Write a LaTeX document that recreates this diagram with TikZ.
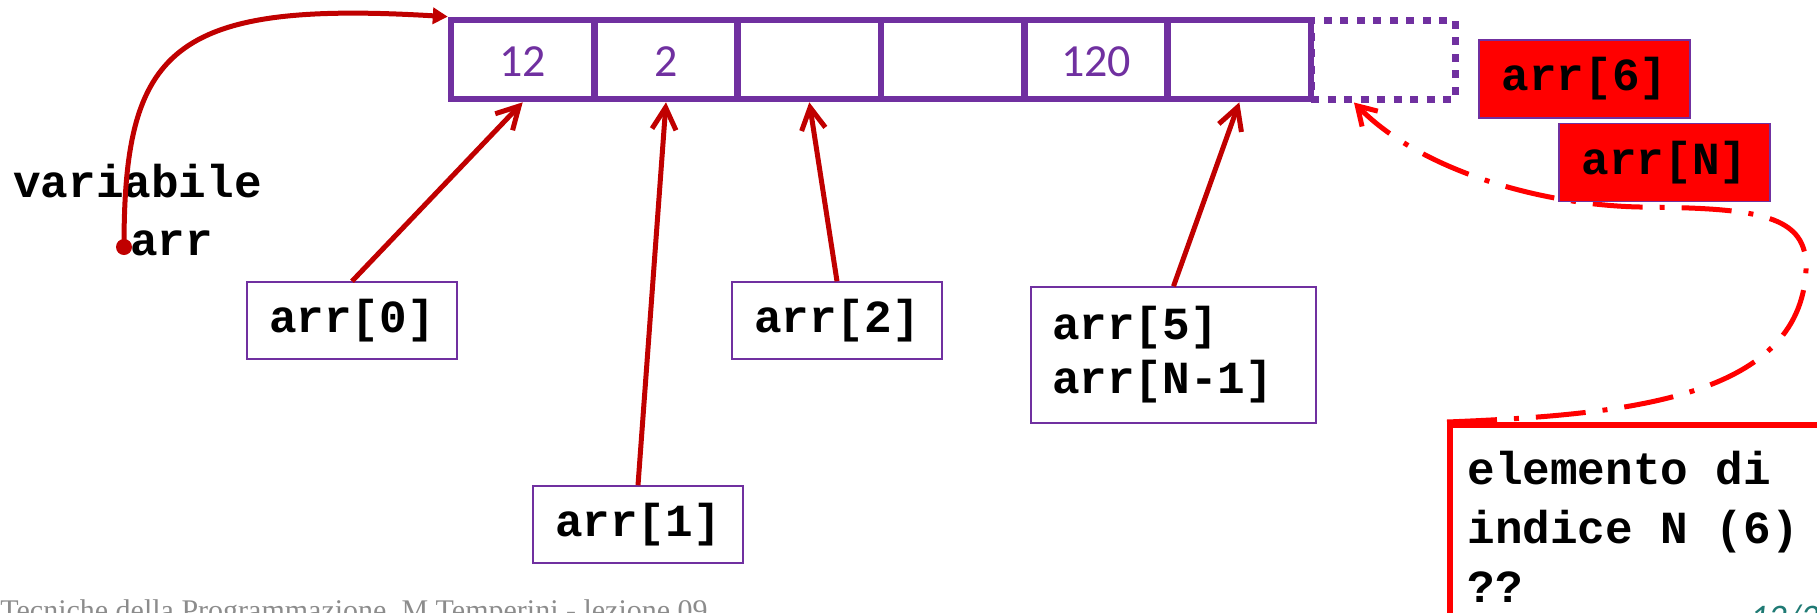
\documentclass[tikz,border=0pt]{standalone}
\usepackage{fontspec}
\setmonofont{Liberation Mono}
\newfontfamily\calib{Carlito}
\newfontfamily\serifft{Liberation Serif}
\usetikzlibrary{arrows.meta}
\definecolor{mpurple}{HTML}{7030A0}
\definecolor{dred}{HTML}{C00000}
\definecolor{bred}{HTML}{FF0000}
\definecolor{pteal}{HTML}{1F7A74}
\definecolor{fgray}{HTML}{8C8C8C}
\tikzset{
  cell/.style={draw=mpurple, line width=3.3pt, minimum width=71.6pt, minimum height=39.5pt,
    inner sep=0pt, text=mpurple, text height=17pt, text depth=0pt,
    font=\calib\fontsize{23}{27}\selectfont},
  ghostcell/.style={draw=mpurple, line width=3.5pt, dash pattern=on 4pt off 4.25pt,
    minimum width=72pt, minimum height=39.5pt, inner sep=0pt},
  monofont/.style={font=\ttfamily\bfseries\fontsize{23}{27}\selectfont},
  lab/.style={monofont, draw=mpurple, line width=0.75pt, fill=white, inner sep=0pt,
    minimum width=105pt, minimum height=38.5pt},
  redlab/.style={monofont, draw=mpurple, line width=0.75pt, fill=bred, inner sep=0pt,
    minimum width=105.5pt, minimum height=39pt},
  idxarrow/.style={draw=dred, line width=2.5pt, -{Straight Barb[length=11pt,width=12pt]}},
  ptrarrow/.style={draw=dred, line width=2.5pt, -{Triangle[length=7.5pt,width=8pt]}},
  oobarrow/.style={draw=bred, line width=2.5pt, dash pattern=on 25pt off 8.5pt on 2.5pt off 8.5pt,
    -{Straight Barb[length=9pt,width=11pt]}},
}
\begin{document}
\begin{tikzpicture}[x=0.5pt,y=-0.5pt]
\useasboundingbox (0,0) rectangle (1817,612);
\clip (0,0) rectangle (1817,612);

% array cells
\node[cell] (c1) at (522.7,59.5) {12};
\node[cell] (c2) at (666,59.5) {2};
\node[cell] (c3) at (809.3,59.5) {};
\node[cell] (c4) at (952.7,59.5) {};
\node[cell] (c5) at (1096,59.5) {120};
\node[cell] (c6) at (1239.3,59.5) {};
\node[ghostcell] (c7) at (1383,59.5) {};

% variable arr
\node[font=\ttfamily\bfseries\fontsize{23}{29}\selectfont, anchor=base west,
  text width=150pt, inner sep=0pt, align=left] (var) at (13,197)
  {variabile\\\hspace*{58.5pt}arr};
\node[circle, fill=dred, inner sep=0pt, minimum size=8pt] (dot) at (124,247) {};
\draw[ptrarrow] (dot.center) .. controls (124,50) and (170,0) .. (c1.north west);

% index labels
\node[lab] (l0) at (352,320.5) {arr[0]};
\node[lab] (l2) at (837,320.5) {arr[2]};
\node[lab] (l1) at (638,524.5) {arr[1]};
\node[lab, minimum width=142.5pt, minimum height=68pt, text width=121.5pt, inner xsep=10.5pt,
  align=left] (l5) at (1173.5,355) {arr[5]\\arr[N-1]};

\draw[idxarrow] (l0.north) -- (c1.south);
\draw[idxarrow] (l1.north) -- (c2.south);
\draw[idxarrow] (l2.north) -- (c3.south);
\draw[idxarrow] (l5.north) -- (c6.south);

% out-of-bounds element
\node[draw=bred, line width=3pt, fill=white, anchor=north west, minimum width=250pt,
  minimum height=150pt, inner sep=0pt] (nb) at (1447,422) {};
\node[font=\ttfamily\bfseries\fontsize{23}{29.5}\selectfont, anchor=base west,
  text width=190pt, inner sep=0pt, align=left] (nbt) at (1467,484)
  {\spaceskip=0pt\xspaceskip=0pt\relax elemento di\\indice N (6)\\??};

\draw[oobarrow] (nb.north west) .. controls (1620,415) and (1800,400) .. (1806,270)
  .. controls (1808,215) and (1760,208) .. (1640,207)
  .. controls (1540,205) and (1420,170) .. (c7.236);

\node[redlab] (r6) at (1584.5,79) {arr[6]};
\node[redlab] (rN) at (1664.5,162.5) {arr[N]};

% footer
\node[anchor=base west, inner sep=0pt, text=fgray, font=\serifft\fontsize{15}{18}\selectfont]
  (foot) at (0,620) {Tecniche della Programmazione, M.Temperini - lezione 09};
\node[anchor=north west, inner sep=0pt, text=pteal, font=\calib\itshape\fontsize{18}{20}\selectfont]
  (pg) at (1750,604) {12/22};
\end{tikzpicture}
\end{document}
